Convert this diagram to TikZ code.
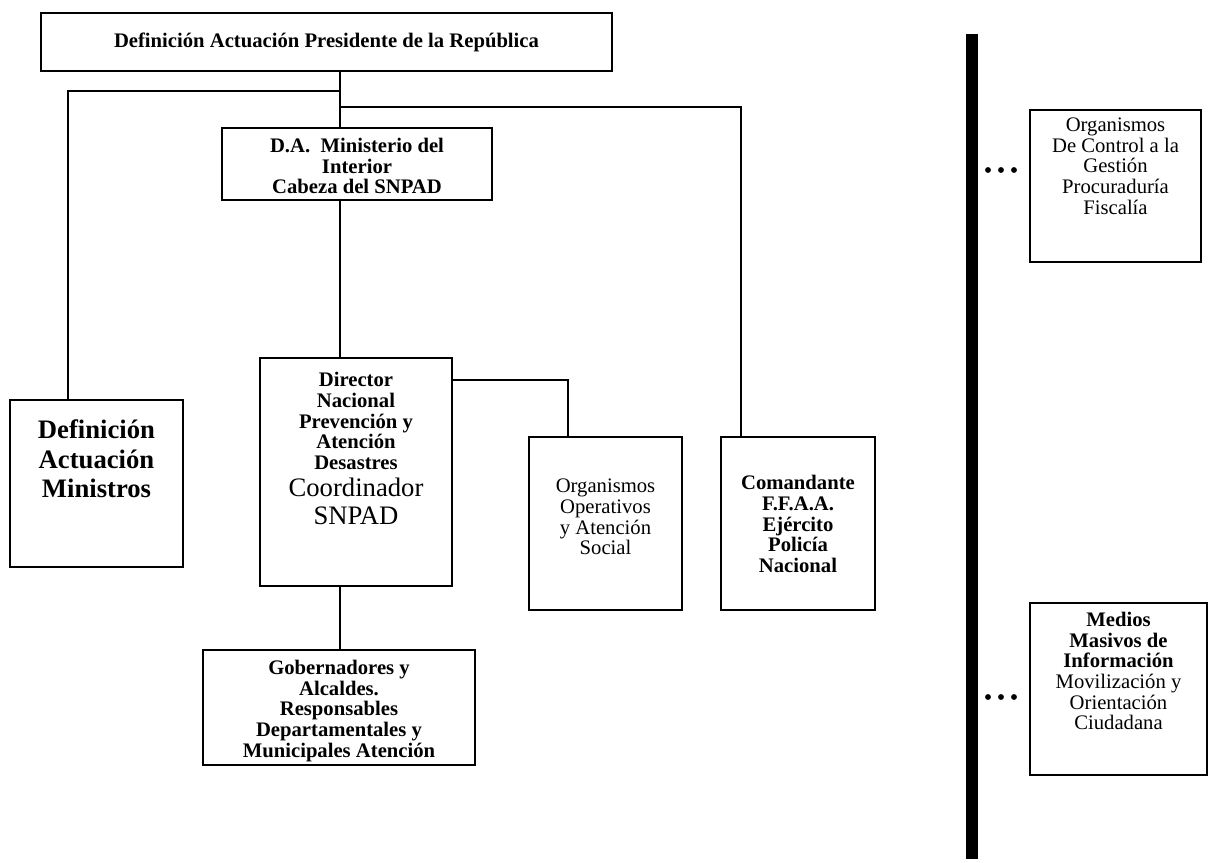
\documentclass[tikz,border=0pt]{standalone}
\usepackage{fontspec}
\setmainfont{Liberation Serif}
\newcommand\tsz{\fontsize{15.5}{15.5}\selectfont}
\newcommand\tbg{\fontsize{20}{22}\selectfont}
\begin{document}
\begin{tikzpicture}[x=0.75pt,y=-0.75pt,
  box/.style n args={2}{draw, line width=1.4pt, rectangle, inner sep=0pt,
     minimum width=#1*0.75pt, minimum height=#2*0.75pt},
  txt/.style={align=center, inner sep=0pt, font=\tsz},
  conn/.style={line width=1.4pt, line join=miter}]
\fill[white] (0,0) rectangle (1209,863);
\useasboundingbox (0,0) rectangle (1209,863);

% boxes
\node[box={571}{58}]  (top) at (326.5,42) {};
\node[box={270}{72}]  (da)  at (357,164) {};
\node[box={173}{167}] (min) at (96.5,483.5) {};
\node[box={192}{228}] (dir) at (356,472) {};
\node[box={153}{173}] (oop) at (605.5,523.5) {};
\node[box={154}{173}] (com) at (798,523.5) {};
\node[box={272}{115}] (gob) at (339,707.5) {};
\node[box={171}{152}] (ctl) at (1115.5,186) {};
\node[box={177}{172}] (med) at (1118.5,689) {};

% texts
\node[txt, font=\tsz\bfseries] (topT) at (326.5,42) {Definición Actuación Presidente de la República};
\node[txt, font=\tsz\bfseries] (daT) at (357,166) {D.A.\ \ Ministerio del\\Interior\\Cabeza del SNPAD};
\node[txt, font=\tbg\bfseries] (minT) at (96.5,459) {Definición\\Actuación\\Ministros};
\node[txt, font=\tsz\bfseries] (dirT) at (356,421) {Director\\Nacional\\Prevención y\\Atención\\Desastres};
\node[txt, font=\fontsize{20}{21}\selectfont] (dirT2) at (356,501) {Coordinador\\SNPAD};
\node[txt] (oopT) at (605.5,517) {Organismos\\Operativos\\y Atención\\Social};
\node[txt, font=\tsz\bfseries] (comT) at (798,524) {Comandante\\F.F.A.A.\\Ejército\\Policía\\Nacional};
\node[txt, font=\tsz\bfseries] (gobT) at (339,711) {Gobernadores y\\Alcaldes.\\Responsables\\Departamentales y\\Municipales Atención};
\node[txt] (ctlT) at (1115.5,166) {Organismos\\De Control a la\\Gestión\\Procuraduría\\Fiscalía};
\node[txt] (medT) at (1118.5,671) {\textbf{Medios}\\\textbf{Masivos de}\\\textbf{Información}\\Movilización y\\Orientación\\Ciudadana};

% connectors
\coordinate (jl) at (340,91);
\coordinate (jr) at (340,107);
\coordinate (jd) at (568,380);
\draw[conn] (top.south -| jl) -- (da.north -| jl);
\draw[conn] (jl) -| (min.north -| 68,0);
\draw[conn] (jr) -| (com.north -| 741,0);
\draw[conn] (da.south -| jl) -- (dir.north -| jl);
\draw[conn] (dir.east |- jd) -| (oop.north -| jd);
\draw[conn] (dir.south -| jl) -- (gob.north -| jl);

% side bar and dots
\fill (966,34) rectangle (978,859);
\foreach \yy in {170,697}{
  \foreach \xx in {988,1001,1014}{\fill (\xx,\yy) circle (2.2pt);}
}
\end{tikzpicture}
\end{document}
